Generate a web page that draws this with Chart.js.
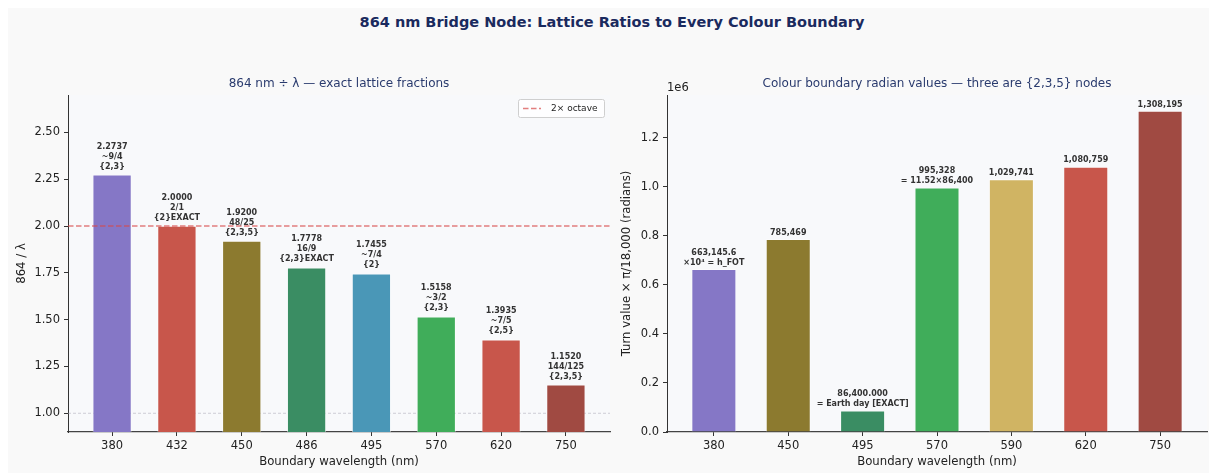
<!DOCTYPE html>
<html><head><meta charset="utf-8">
<script src="https://cdn.jsdelivr.net/npm/chart.js@4.4.0/dist/chart.umd.min.js"></script>
<style>
html,body{margin:0;padding:0;background:#fff;width:1209px;height:473px;overflow:hidden}
#fig{position:absolute;left:8px;top:8px;width:1201px;height:465px;background:#f9f9f9}
#title{position:absolute;left:0;top:14px;width:1224px;text-align:center;font:bold 14.5px "DejaVu Sans",sans-serif;color:#1a2a5e;white-space:nowrap}
canvas{position:absolute;top:0}
</style></head><body>
<div id="fig"></div>
<div id="title">864 nm Bridge Node: Lattice Ratios to Every Colour Boundary</div>
<canvas id="c1" width="620" height="473" style="left:0"></canvas>
<canvas id="c2" width="597" height="473" style="left:612px"></canvas>
<script>
// ---------- DATA ----------
const leftCategories = ['380','432','450','486','495','570','620','750'];
const leftValues = [2.2737, 2.0000, 1.9200, 1.7778, 1.7455, 1.5158, 1.3935, 1.1520];
const leftLabels = [
  '2.2737\n~9/4\n{2,3}',
  '2.0000\n2/1\n{2}EXACT',
  '1.9200\n48/25\n{2,3,5}',
  '1.7778\n16/9\n{2,3}EXACT',
  '1.7455\n~7/4\n{2}',
  '1.5158\n~3/2\n{2,3}',
  '1.3935\n~7/5\n{2,5}',
  '1.1520\n144/125\n{2,3,5}'
];
const leftColors = ['#8577c6','#c8564b','#8c7a2f','#3a8d63','#4a97b7','#40ad5a','#c8564b','#a04a42'];
const leftTicks = [1.00, 1.25, 1.50, 1.75, 2.00, 2.25, 2.50];
const octaveLine = 2.0;
const unityLine = 1.0;

const rightCategories = ['380','450','495','570','590','620','750'];
const rightValues = [663145.6, 785469, 86400, 995328, 1029741, 1080759, 1308195];
const rightLabels = [
  '663,145.6\n×10⁴ = h_FOT',
  '785,469',
  '86,400.000\n= Earth day [EXACT]',
  '995,328\n= 11.52×86,400',
  '1,029,741',
  '1,080,759',
  '1,308,195'
];
const rightColors = ['#8577c6','#8c7a2f','#3a8d63','#40ad5a','#d0b463','#c8564b','#a04a42'];
const rightTicks = [0, 200000, 400000, 600000, 800000, 1000000, 1200000];

// ---------- STYLE ----------
const FONT = '"DejaVu Sans", sans-serif';
const TXT = '#222';
const TICK_SIZE = 11.5;

function overlay(o) {
  return {
    id: 'overlay',
    beforeDraw(chart) {
      const a = chart.chartArea, c = chart.ctx;
      c.save();
      c.fillStyle = '#f8f9fb';
      c.fillRect(a.left, a.top, a.right - a.left, a.bottom - a.top);
      c.restore();
    },
    beforeDatasetsDraw(chart) {
      const c = chart.ctx, a = chart.chartArea, y = chart.scales.y;
      (o.backLines || []).forEach(l => {
        const py = y.getPixelForValue(l.value);
        c.save(); c.strokeStyle = l.color; c.lineWidth = l.width; c.setLineDash(l.dash);
        c.beginPath(); c.moveTo(a.left, py); c.lineTo(a.right, py); c.stroke(); c.restore();
      });
    },
    afterDatasetsDraw(chart) {
      const c = chart.ctx, a = chart.chartArea, y = chart.scales.y;
      (o.frontLines || []).forEach(l => {
        const py = y.getPixelForValue(l.value);
        c.save(); c.strokeStyle = l.color; c.lineWidth = l.width; c.setLineDash(l.dash);
        c.beginPath(); c.moveTo(a.left, py); c.lineTo(a.right, py); c.stroke(); c.restore();
      });
      // value labels
      const meta = chart.getDatasetMeta(0);
      c.save();
      c.font = 'bold 8px ' + FONT;
      c.fillStyle = '#333';
      c.textAlign = 'center';
      c.textBaseline = 'middle';
      const lh = 10;
      meta.data.forEach((el, i) => {
        const lines = o.labels[i].split('\n');
        const n = lines.length;
        lines.forEach((t, k) => {
          c.fillText(t, el.x, el.y - o.labelOffset - lh / 2 - (n - 1 - k) * lh);
        });
      });
      c.restore();
      // subtitle
      c.save();
      c.font = '12px ' + FONT; c.fillStyle = '#2a3b6e';
      c.textAlign = 'center'; c.textBaseline = 'middle';
      c.fillText(o.subtitle, (a.left + a.right) / 2, 84);
      // axis titles
      c.font = '11.7px ' + FONT; c.fillStyle = TXT;
      c.fillText(o.xTitle, (a.left + a.right) / 2, 462);
      c.translate(o.yTitleX, (a.top + a.bottom) / 2);
      c.rotate(-Math.PI / 2);
      c.fillText(o.yTitle, 0, 0);
      c.restore();
      if (o.exponent) {
        c.save(); c.font = TICK_SIZE + 'px ' + FONT; c.fillStyle = TXT;
        c.textAlign = 'left'; c.textBaseline = 'middle';
        c.fillText(o.exponent, a.left, 88); c.restore();
      }
      if (o.legend) {
        const L = o.legend;
        c.save();
        c.fillStyle = 'rgba(255,255,255,0.85)'; c.strokeStyle = '#cfcfcf'; c.lineWidth = 1;
        c.beginPath(); c.roundRect(L.x + 0.5, L.y + 0.5, L.w, L.h, 2); c.fill(); c.stroke();
        c.strokeStyle = L.color; c.lineWidth = 1.5; c.setLineDash([5.5, 2.5]);
        c.beginPath(); c.moveTo(L.x + 5, L.y + L.h / 2 + 0.5); c.lineTo(L.x + 23, L.y + L.h / 2 + 0.5); c.stroke();
        c.setLineDash([]);
        c.font = '9px ' + FONT; c.fillStyle = TXT; c.textAlign = 'left'; c.textBaseline = 'middle';
        c.fillText(L.text, L.x + 33, L.y + L.h / 2 + 0.5);
        c.restore();
      }
    }
  };
}

function makeChart(id, cats, vals, colors, yTicks, yMin, yMax, yFmt, padding, yWidth, ov) {
  const span = (cats.length - 1) + 0.6;
  const margin = span * 0.05;
  return new Chart(document.getElementById(id), {
    type: 'bar',
    data: {
      datasets: [{
        data: vals.map((v, i) => ({ x: i, y: v })),
        backgroundColor: colors,
        borderColor: 'rgba(255,255,255,0.7)',
        borderWidth: 0.8,
        barPercentage: 0.6,
        categoryPercentage: 1.0
      }]
    },
    options: {
      responsive: false,
      animation: false,
      layout: { padding: padding },
      plugins: { legend: { display: false }, tooltip: { enabled: false }, title: { display: false } },
      scales: {
        x: {
          type: 'linear',
          offset: false,
          min: -0.3 - margin,
          max: cats.length - 1 + 0.3 + margin,
          afterBuildTicks: s => { s.ticks = cats.map((c, i) => ({ value: i })); },
          afterFit: s => { s.height = 41; },
          ticks: { callback: v => cats[v], font: { family: FONT, size: TICK_SIZE }, color: TXT, padding: 3, maxRotation: 0, autoSkip: false },
          grid: { offset: false, drawOnChartArea: false, tickLength: 4, color: '#333', tickWidth: 1 },
          border: { display: true, color: '#444', width: 1.2 }
        },
        y: {
          type: 'linear',
          min: yMin, max: yMax,
          afterBuildTicks: s => { s.ticks = yTicks.map(v => ({ value: v })); },
          afterFit: s => { s.width = yWidth; },
          ticks: { callback: yFmt, font: { family: FONT, size: TICK_SIZE }, color: TXT, padding: 4 },
          grid: { drawOnChartArea: false, tickLength: 4, color: '#333', tickWidth: 1 },
          border: { display: true, color: '#333', width: 1 }
        }
      }
    },
    plugins: [overlay(ov)]
  });
}

makeChart('c1', leftCategories, leftValues, leftColors, leftTicks, 0.9, 2.7,
  v => v.toFixed(2), { left: 0, right: 10, top: 95, bottom: 0 }, 68, {
    labels: leftLabels, labelOffset: 3.3,
    subtitle: '864 nm ÷ λ — exact lattice fractions',
    xTitle: 'Boundary wavelength (nm)', yTitle: '864 / λ', yTitleX: 22,
    backLines: [{ value: unityLine, color: 'rgba(170,170,180,0.55)', width: 1, dash: [3, 2] }],
    frontLines: [{ value: octaveLine, color: 'rgba(214,72,72,0.7)', width: 1.5, dash: [5.5, 2.5] }],
    legend: { x: 518, y: 99, w: 86, h: 18, text: '2× octave', color: 'rgba(214,72,72,0.7)' }
  });

makeChart('c2', rightCategories, rightValues, rightColors, rightTicks, 0, 1308195 * 1.05,
  v => (v / 1e6).toFixed(1), { left: 0, right: 2, top: 95, bottom: 0 }, 55, {
    labels: rightLabels, labelOffset: 1.5,
    subtitle: 'Colour boundary radian values — three are {2,3,5} nodes',
    xTitle: 'Boundary wavelength (nm)', yTitle: 'Turn value × π/18,000 (radians)', yTitleX: 15,
    exponent: '1e6'
  });
</script>
</body></html>
